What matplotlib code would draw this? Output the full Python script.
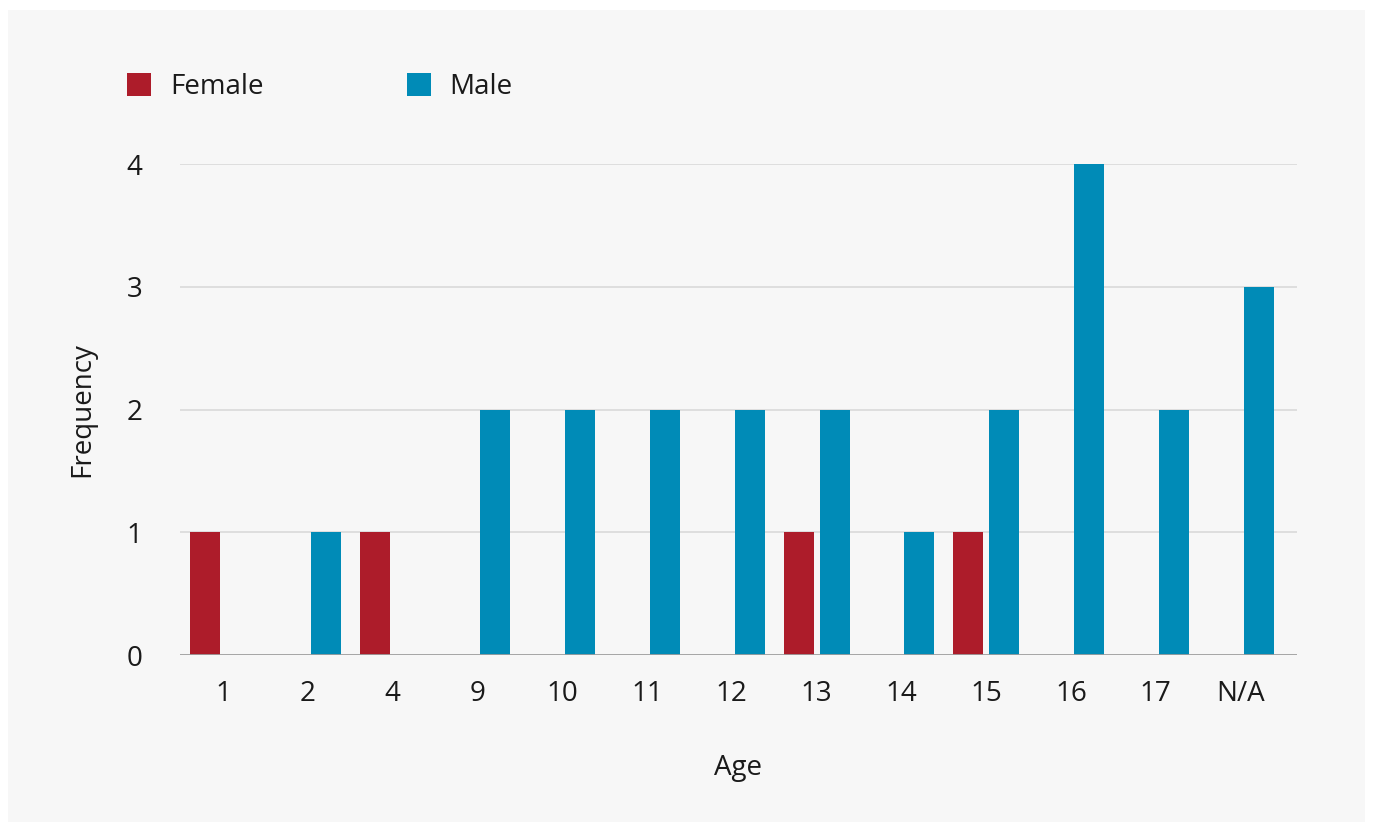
import matplotlib
matplotlib.use('Agg')
import matplotlib.pyplot as plt
import numpy as np
from matplotlib.patches import Rectangle

# Data
ages = ['1', '2', '4', '9', '10', '11', '12', '13', '14', '15', '16', '17', 'N/A']
female = [1, 0, 1, 0, 0, 0, 0, 1, 0, 1, 0, 0, 0]
male = [0, 1, 0, 2, 2, 2, 2, 2, 1, 2, 4, 2, 3]
y_ticks = [0, 1, 2, 3, 4]

red = '#ad1c2a'
blue = '#008bb7'
text_col = '#1a1a1a'
fs = 20

plt.rcParams['font.family'] = ['Open Sans', 'DejaVu Sans']

W, H = 1373, 832
fig = plt.figure(figsize=(W / 100, H / 100), dpi=100)
fig.patch.set_facecolor('white')

# light grey panel behind everything
fig.patches.append(Rectangle((8 / W, 10 / H), (1365 - 8) / W, (822 - 10) / H,
                             transform=fig.transFigure, facecolor='#f7f7f7',
                             edgecolor='none', zorder=-10))

ax = fig.add_axes([180 / W, 1 - 655 / H, (1297 - 180) / W, (655 - 164) / H])
ax.set_facecolor('none')
ax.set_zorder(1)

x = np.arange(len(ages))
bw = 0.354
off = 0.212
b1 = ax.bar(x - off, female, bw, color=red, label='Female', zorder=3)
b2 = ax.bar(x + off, male, bw, color=blue, label='Male', zorder=3)

ax.set_xlim(-0.507, len(ages) - 1 + 0.665)
ax.set_ylim(0, 4)
ax.set_yticks(y_ticks)
ax.set_xticks(x)
ax.set_xticklabels(ages)

for t in y_ticks[1:]:
    ax.axhline(t, color='#d9d9d9', lw=1.2, zorder=1)
ax.axhline(0, color='#9e9e9e', lw=2, zorder=4)

for s in ax.spines.values():
    s.set_visible(False)
ax.tick_params(axis='both', length=0, labelsize=fs, colors=text_col)
ax.tick_params(axis='y', pad=27)
ax.tick_params(axis='x', pad=18)

ax.set_xlabel('Age', fontsize=fs, color=text_col, labelpad=33)
ax.set_ylabel('Frequency', fontsize=fs, color=text_col, labelpad=22)

leg = fig.legend(handles=[b1, b2], loc='center left',
                 bbox_to_anchor=(102 / W, 1 - 87 / H), ncol=2, frameon=False,
                 fontsize=fs, handlelength=0.87, handleheight=0.87,
                 handletextpad=0.68, columnspacing=5.15)
for t in leg.get_texts():
    t.set_color(text_col)

fig.savefig('out.png', dpi=100)
